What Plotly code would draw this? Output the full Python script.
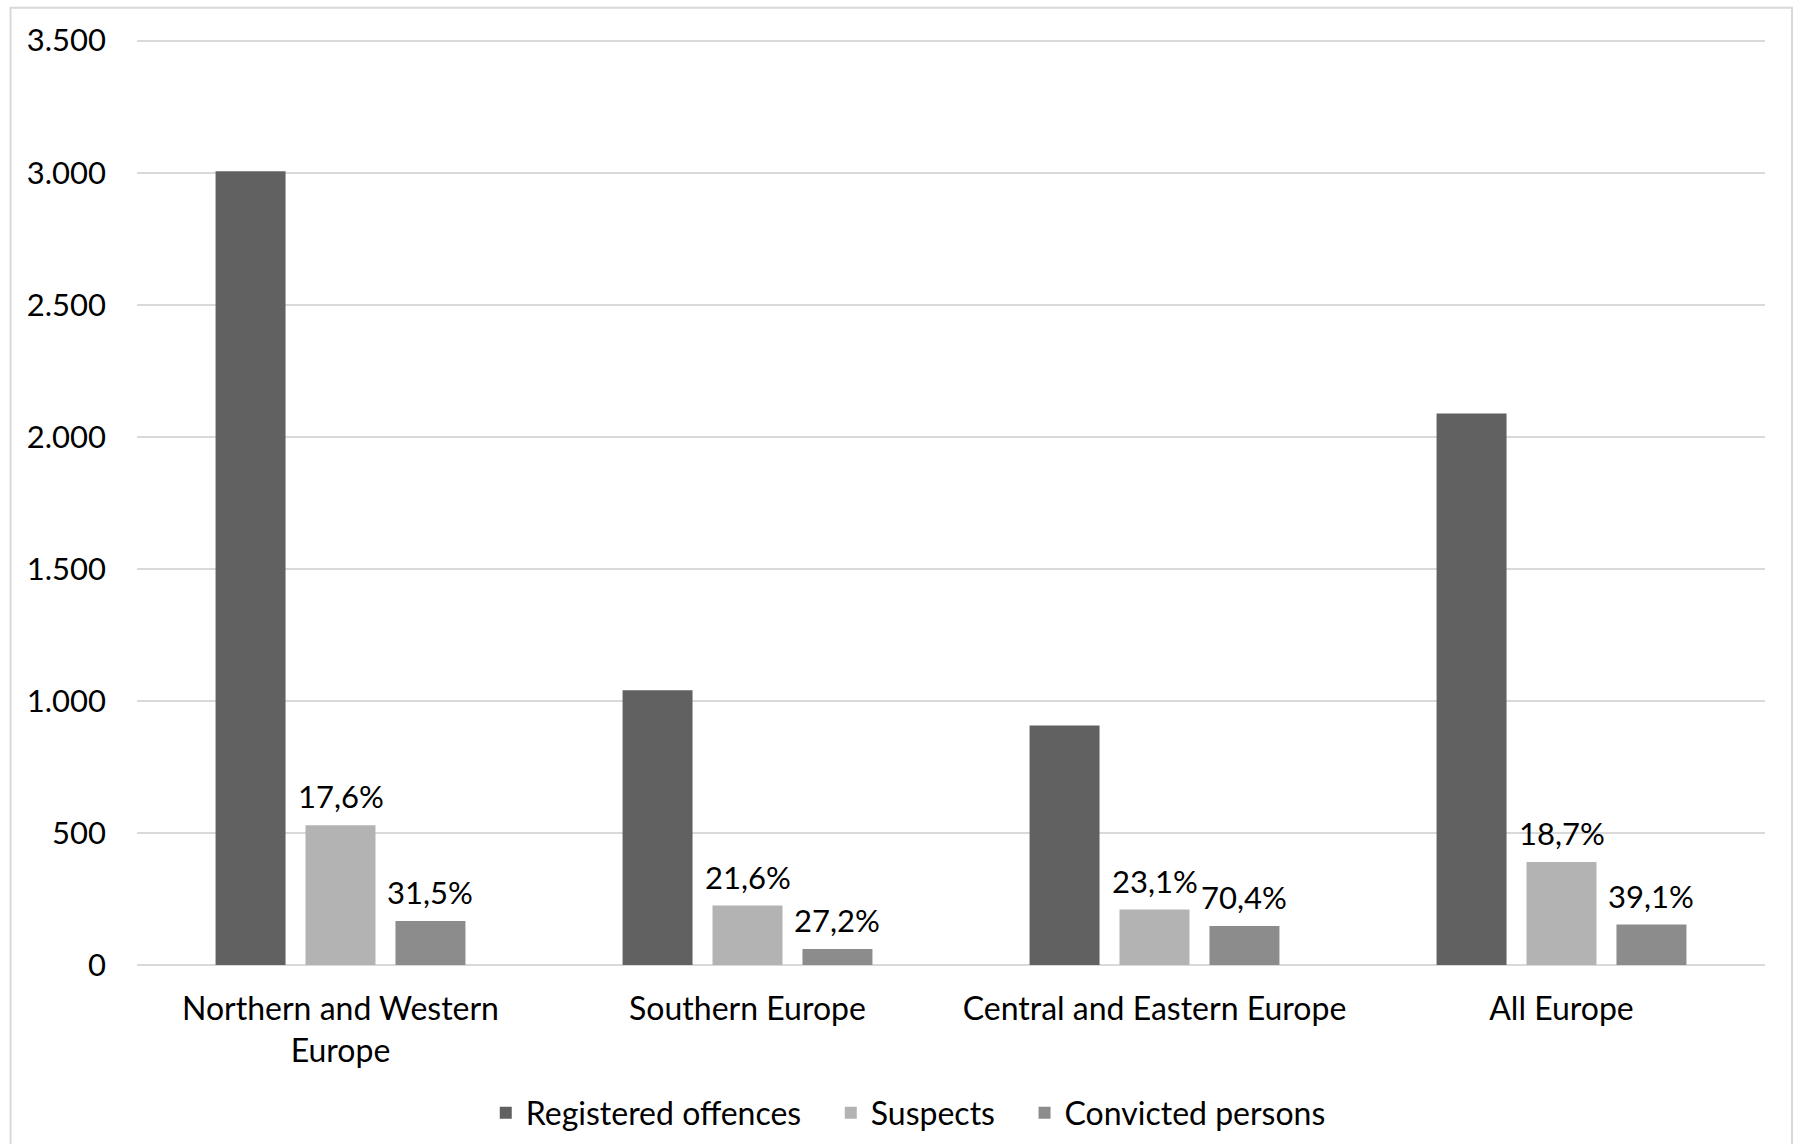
import plotly.graph_objects as go

categories = ["Northern and Western<br>Europe", "Southern Europe", "Central and Eastern Europe", "All Europe"]
registered = [3005, 1040, 907, 2088]
suspects = [529, 225, 210, 390]
convicted = [167, 61, 148, 153]
suspects_pct = ["17,6%", "21,6%", "23,1%", "18,7%"]
convicted_pct = ["31,5%", "27,2%", "70,4%", "39,1%"]
y_ticks = [0, 500, 1000, 1500, 2000, 2500, 3000, 3500]
series_names = ["Registered offences", "Suspects", "Convicted persons"]

FONT = "Lato, Carlito, Calibri, sans-serif"
FS = 32
FS_NUM = 31
NB = "\u00a0"

W, H = 1799, 1144
Y_TOP = 3510
L, R, B = 136.5, 34, 179
ph = (H - B - 41) * Y_TOP / 3500
T = H - B - ph
pw = W - L - R
BARGAP, GROUPGAP = 0.337, 0.222
slot_px = pw / len(categories) * (1 - BARGAP) / 3

fig = go.Figure()
fig.add_trace(go.Bar(name=series_names[0] + NB * 3, x=categories, y=registered,
                     marker=dict(color="#616161", line=dict(width=0))))
fig.add_trace(go.Bar(name=series_names[1] + NB * 3, x=categories, y=suspects,
                     marker=dict(color="#b3b3b3", line=dict(width=0))))
fig.add_trace(go.Bar(name=series_names[2], x=categories, y=convicted,
                     marker=dict(color="#8c8c8c", line=dict(width=0))))

annotations = []
for cat, v, t in zip(categories, suspects, suspects_pct):
    annotations.append(dict(x=cat, y=v, text=t, xref="x", yref="y", showarrow=False,
                            xanchor="center", yanchor="bottom", yshift=8, xshift=0,
                            font=dict(family=FONT, size=FS_NUM, color="#000000")))
for cat, v, t in zip(categories, convicted, convicted_pct):
    annotations.append(dict(x=cat, y=v, text=t, xref="x", yref="y", showarrow=False,
                            xanchor="center", yanchor="bottom", yshift=8, xshift=slot_px,
                            font=dict(family=FONT, size=FS_NUM, color="#000000")))

fig.update_layout(
    width=W, height=H,
    margin=dict(l=L, r=R, t=T, b=B, pad=0, autoexpand=False),
    paper_bgcolor="white", plot_bgcolor="white",
    barmode="group", bargap=BARGAP, bargroupgap=GROUPGAP,
    separators=",.",
    font=dict(family=FONT, size=FS, color="#000000"),
    showlegend=True,
    legend=dict(orientation="h", x=(908 - L) / pw, xanchor="center",
                y=(H - B - 1113) / ph, yanchor="middle",
                font=dict(family=FONT, size=FS, color="#000000"),
                traceorder="normal", itemwidth=30),
    xaxis=dict(showgrid=False, showline=False, ticks="", zeroline=False,
               automargin=False, ticklabelstandoff=22,
               tickfont=dict(family=FONT, size=FS, color="#000000")),
    yaxis=dict(range=[0, Y_TOP], tickvals=y_ticks, tickformat=",.0f",
               showgrid=True, gridcolor="#d9d9d9", gridwidth=2,
               zeroline=True, zerolinecolor="#d9d9d9", zerolinewidth=2,
               showline=False, ticks="", ticklabelstandoff=30, automargin=False,
               tickfont=dict(family=FONT, size=FS_NUM, color="#000000")),
    annotations=annotations,
    shapes=[dict(type="rect", xref="paper", yref="paper",
                 x0=(10 - L) / pw, x1=(1792 - L) / pw,
                 y0=(H - B - 1150) / ph, y1=(H - B - 8) / ph,
                 line=dict(color="#d9d9d9", width=2), fillcolor="rgba(0,0,0,0)", layer="below")],
)

fig.write_html("out.html",
               config={"displayModeBar": False},
               post_script="document.body.style.margin='0';document.body.style.overflow='hidden';")
